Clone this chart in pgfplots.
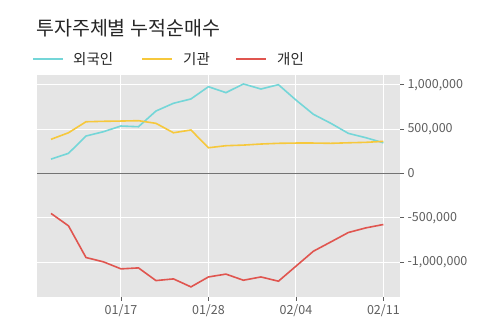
\documentclass[border=0pt]{standalone}
\usepackage{pgfplots}
\pgfplotsset{compat=1.18}
\usepackage{fontspec}
\setmainfont{Noto Sans CJK KR}
\definecolor{cfor}{HTML}{74D6D8}
\definecolor{cins}{HTML}{F6C83C}
\definecolor{cind}{HTML}{E0554F}
\definecolor{bgray}{HTML}{E5E5E5}
\definecolor{tgray}{HTML}{5E5E5E}
\begin{document}
\begin{tikzpicture}
\useasboundingbox (0,0) rectangle (500pt,323pt);
\node[anchor=base west, inner sep=0pt, font=\fontsize{19.5}{19.5}\selectfont, text=black!85] at (36pt,287pt) {투자주체별 누적순매수};
\draw[cfor, line width=1.6pt] (33pt,264pt) -- (63pt,264pt);
\node[anchor=west, inner sep=0pt, font=\fontsize{14.5}{14.5}\selectfont, text=black!85] at (73pt,264pt) {외국인};
\draw[cins, line width=1.6pt] (142pt,264pt) -- (172pt,264pt);
\node[anchor=west, inner sep=0pt, font=\fontsize{14.5}{14.5}\selectfont, text=black!85] at (183pt,264pt) {기관};
\draw[cind, line width=1.6pt] (236pt,264pt) -- (266pt,264pt);
\node[anchor=west, inner sep=0pt, font=\fontsize{14.5}{14.5}\selectfont, text=black!85] at (277pt,264pt) {개인};
\begin{axis}[
  at={(37pt,26pt)}, anchor=south west,
  width=363pt, height=222pt, scale only axis,
  xmin=-0.8, xmax=19.95, ymin=-1393000, ymax=1109000,
  axis background/.style={fill=bgray},
  axis line style={draw=none},
  grid=major, grid style={white, line width=1pt},
  xtick={4,9,14,19}, xticklabels={01/17,01/28,02/04,02/11},
  ytick={-1000000,-500000,0,500000,1000000},
  xtick pos=bottom, ytick pos=right, yticklabel pos=right,
  tick align=outside, major tick length=4pt,
  tick style={tgray, line width=0.6pt},
  ticklabel style={font=\fontsize{12.5}{12.5}\selectfont, text=tgray},
  scaled y ticks=false,
  yticklabel style={/pgf/number format/.cd, fixed, 1000 sep={,}},
  /pgf/number format/assume math mode=true,
]
\addplot[gray!90!black, line width=1pt] coordinates {(-0.8,0) (19.95,0)};
\addplot[cfor, line width=1.6pt] coordinates {
(0,161000) (1,226000) (2,421000) (3,470000) (4,534000) (5,526000) (6,703000) (7,790000) (8,839000) (9,977000)
(10,910000) (11,1008000) (12,951000) (13,1000000) (14,827000) (15,666000) (16,564000) (17,451000) (18,402000) (19,345000)};
\addplot[cins, line width=1.6pt] coordinates {
(0,384000) (1,458000) (2,582000) (3,587000) (4,590000) (5,594000) (6,564000) (7,458000) (8,489000) (9,289000)
(10,312000) (11,319000) (12,331000) (13,339000) (14,342000) (15,342000) (16,339000) (17,345000) (18,350000) (19,361000)};
\addplot[cind, line width=1.6pt] coordinates {
(0,-451000) (1,-591000) (2,-948000) (3,-997000) (4,-1076000) (5,-1065000) (6,-1208000) (7,-1189000) (8,-1279000) (9,-1167000)
(10,-1135000) (11,-1204000) (12,-1167000) (13,-1215000) (14,-1046000) (15,-877000) (16,-772000) (17,-666000) (18,-614000) (19,-576000)};
\end{axis}
\end{tikzpicture}
\end{document}
